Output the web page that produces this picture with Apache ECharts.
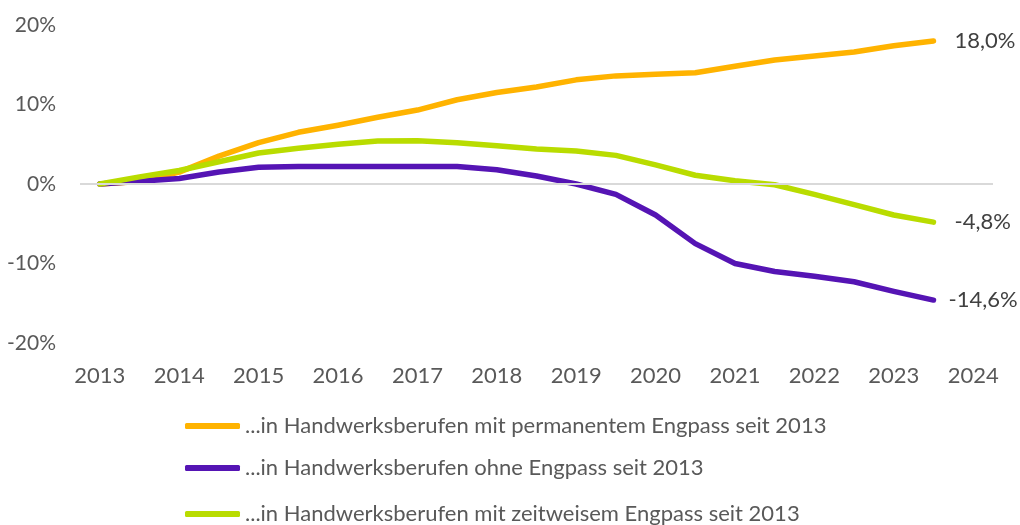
<!DOCTYPE html>
<html>
<head>
<meta charset="utf-8">
<script src="https://cdn.jsdelivr.net/npm/echarts@6/dist/echarts.min.js"></script>
<style>
  html, body { margin: 0; padding: 0; background: #fff; }
  #chart { width: 1020px; height: 525px; }
</style>
</head>
<body>
<div id="chart"></div>
<script>
    // half-year steps from 2013 to 2023.5
    var years = [2013, 2013.5, 2014, 2014.5, 2015, 2015.5, 2016, 2016.5, 2017, 2017.5, 2018,
                 2018.5, 2019, 2019.5, 2020, 2020.5, 2021, 2021.5, 2022, 2022.5, 2023, 2023.5];
    var yearLabels = [2013, 2014, 2015, 2016, 2017, 2018, 2019, 2020, 2021, 2022, 2023, 2024];
    var seriesNames = [
        '...in Handwerksberufen mit permanentem Engpass seit 2013',
        '...in Handwerksberufen ohne Engpass seit 2013',
        '...in Handwerksberufen mit zeitweisem Engpass seit 2013'
    ];
    var permanent = [0, 0.3, 1.5, 3.5, 5.2, 6.5, 7.4, 8.4, 9.3, 10.6, 11.5,
                     12.2, 13.1, 13.6, 13.8, 14.0, 14.8, 15.6, 16.1, 16.6, 17.4, 18.0];
    var ohne = [0, 0.35, 0.7, 1.5, 2.1, 2.2, 2.2, 2.2, 2.2, 2.2, 1.8,
                1.0, 0.0, -1.3, -3.9, -7.5, -10.0, -11.0, -11.6, -12.3, -13.5, -14.6];
    var zeitweise = [0, 0.9, 1.7, 2.8, 3.9, 4.5, 5.0, 5.4, 5.45, 5.2, 4.8,
                     4.4, 4.15, 3.6, 2.4, 1.1, 0.4, -0.1, -1.3, -2.6, -3.9, -4.8];
    var colors = ['#FFB300', '#5514B4', '#B9DC00'];

    var font = 'Lato, "Open Sans", sans-serif';

    function pairs(vals) {
        return vals.map(function (v, i) { return [years[i], v]; });
    }

    function makeSeries(name, vals, color, labelGap, withZero) {
        var s = {
            name: name,
            type: 'line',
            data: pairs(vals),
            symbol: 'none',
            lineStyle: { width: 5.5, color: color, cap: 'round', join: 'round' },
            itemStyle: { color: color },
            endLabel: {
                show: true,
                distance: labelGap,
                color: '#404040',
                fontFamily: font,
                fontSize: 22,
                formatter: function (p) {
                    return p.value[1].toFixed(1).replace('.', ',') + '%';
                }
            }
        };
        if (withZero) {
            s.markLine = {
                silent: true,
                symbol: 'none',
                label: { show: false },
                lineStyle: { color: '#d9d9d9', width: 2, type: 'solid' },
                data: [{ yAxis: 0 }]
            };
        }
        return s;
    }

    // one legend block per row so they stack like the original
    var legendTops = [410, 452, 498];
    var legends = seriesNames.map(function (n, i) {
        return {
            left: 180,
            top: legendTops[i],
            itemWidth: 55,
            itemHeight: 6,
            icon: 'roundRect',
            data: [n],
            textStyle: { color: '#595959', fontFamily: font, fontSize: 22 }
        };
    });

    var chart = echarts.init(document.getElementById('chart'), null, {renderer: 'canvas'});
    chart.setOption({
        animation: false,
        color: colors,
        grid: { left: 80, right: 27, top: 25, bottom: 182 },
        xAxis: {
            type: 'value',
            min: 2012.75,
            max: 2024.25,
            axisLine: { show: false },
            axisTick: { show: false },
            splitLine: { show: false },
            axisLabel: {
                customValues: yearLabels,
                margin: 22,
                color: '#595959',
                fontFamily: font,
                fontSize: 22,
                formatter: function (v) { return String(v); }
            }
        },
        yAxis: {
            type: 'value',
            min: -20,
            max: 20,
            interval: 10,
            axisLine: { show: false },
            axisTick: { show: false },
            splitLine: { show: false },
            axisLabel: {
                margin: 24,
                color: '#595959',
                fontFamily: font,
                fontSize: 21,
                formatter: '{value}%'
            }
        },
        legend: legends,
        series: [
            makeSeries(seriesNames[0], permanent, colors[0], 21, true),
            makeSeries(seriesNames[1], ohne, colors[1], 15, false),
            makeSeries(seriesNames[2], zeitweise, colors[2], 21, false)
        ]
    });
</script>
</body>
</html>
